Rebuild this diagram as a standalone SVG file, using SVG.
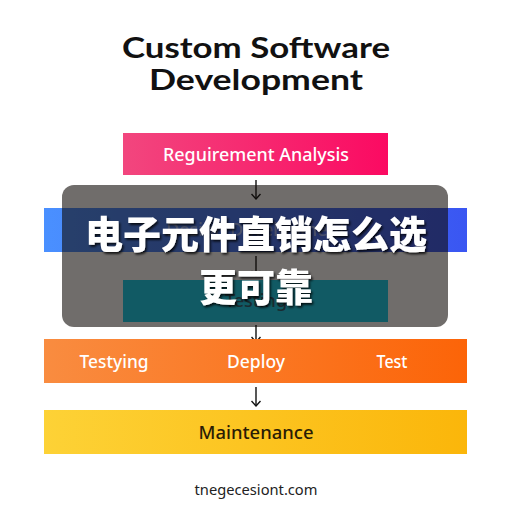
<svg xmlns="http://www.w3.org/2000/svg" width="512" height="512" viewBox="0 0 512 512">
<defs>
<linearGradient id="gPink" x1="0" y1="0" x2="1" y2="0"><stop offset="0" stop-color="#f2467e"/><stop offset="1" stop-color="#fb0a62"/></linearGradient>
<linearGradient id="gBlue" x1="0" y1="0" x2="1" y2="0"><stop offset="0" stop-color="#4a90ff"/><stop offset="1" stop-color="#3a56f2"/></linearGradient>
<linearGradient id="gOrange" x1="0" y1="0" x2="1" y2="0"><stop offset="0" stop-color="#f98c40"/><stop offset="1" stop-color="#fc6408"/></linearGradient>
<linearGradient id="gYellow" x1="0" y1="0" x2="1" y2="0"><stop offset="0" stop-color="#fdd236"/><stop offset="1" stop-color="#fbb60a"/></linearGradient>
<marker id="arr" viewBox="0 0 10 10" refX="9" refY="5" markerWidth="10" markerHeight="10" markerUnits="userSpaceOnUse" orient="auto">
<path d="M4,0.5 L9,5 L4,9.5" fill="none" stroke="#111" stroke-width="1.4"/>
</marker>
<filter id="sh" x="-10%" y="-20%" width="120%" height="140%"><feDropShadow dx="1.5" dy="2" stdDeviation="1.2" flood-color="#000" flood-opacity="0.8"/></filter>
</defs>
<style>
.lbl{font-family:"Noto Sans","Lato",sans-serif;font-weight:500;font-size:18px;text-anchor:middle;}
.w{fill:#ffffff;}
.cn{font-family:"Noto Sans CJK SC",sans-serif;font-weight:900;font-size:38px;fill:#fff;text-anchor:middle;}
.conn{stroke:#111;stroke-width:1.4;fill:none;}
</style>
<rect width="512" height="512" fill="#ffffff"/>
<g id="title" font-family="Lato, 'Noto Sans', sans-serif" font-weight="700" font-size="29" fill="#111" text-anchor="middle">
<text x="256" y="58" textLength="268" lengthAdjust="spacingAndGlyphs">Custom Software</text>
<text x="256" y="90" textLength="214" lengthAdjust="spacingAndGlyphs">Development</text>
</g>
<g id="connectors">
<line class="conn" x1="256" y1="180" x2="256" y2="199" marker-end="url(#arr)"/>
<line class="conn" x1="256" y1="256" x2="256" y2="276" marker-end="url(#arr)"/>
<line class="conn" x1="256" y1="325" x2="256" y2="342" marker-end="url(#arr)"/>
<line class="conn" x1="256" y1="387" x2="256" y2="406" marker-end="url(#arr)"/>
</g>
<g id="node-requirement">
<rect x="123" y="133" width="265" height="42" fill="url(#gPink)"/>
<text class="lbl w" x="256" y="161" textLength="186" lengthAdjust="spacingAndGlyphs">Reguirement Analysis</text>
</g>
<g id="node-design">
<rect x="44" y="208" width="423" height="44" fill="url(#gBlue)"/>
<text class="lbl" x="256" y="236" fill="#dfe6ff" opacity="0.6">Design Development</text>
</g>
<g id="node-deploy">
<rect x="44" y="339" width="423" height="44" fill="url(#gOrange)"/>
<text class="lbl w" x="114" y="368" textLength="69" lengthAdjust="spacingAndGlyphs">Testying</text>
<text class="lbl w" x="256" y="368" textLength="58" lengthAdjust="spacingAndGlyphs">Deploy</text>
<text class="lbl w" x="392" y="368" textLength="31" lengthAdjust="spacingAndGlyphs">Test</text>
</g>
<g id="node-maintenance">
<rect x="44" y="410" width="423" height="44" fill="url(#gYellow)"/>
<text class="lbl" x="256" y="439" fill="#2a1c05" textLength="115" lengthAdjust="spacingAndGlyphs">Maintenance</text>
</g>
<g id="footer">
<text x="256" y="495" font-family="'Noto Sans', Lato, sans-serif" font-size="15" fill="#222" text-anchor="middle" textLength="123" lengthAdjust="spacingAndGlyphs">tnegecesiont.com</text>
</g>
<g id="overlay">
<rect x="62" y="185" width="386" height="142" rx="12" fill="#100c08" fill-opacity="0.6"/>
</g>
<g id="node-testing">
<rect x="123" y="280" width="265" height="42" fill="#115a64"/>
<text class="lbl" x="256" y="307" fill="#1a2a30">Testing</text>
</g>
<g id="overlay-text">
<text class="cn" x="256" y="248" filter="url(#sh)">电子元件直销怎么选</text>
<text class="cn" x="256" y="301" filter="url(#sh)">更可靠</text>
</g>
</svg>
